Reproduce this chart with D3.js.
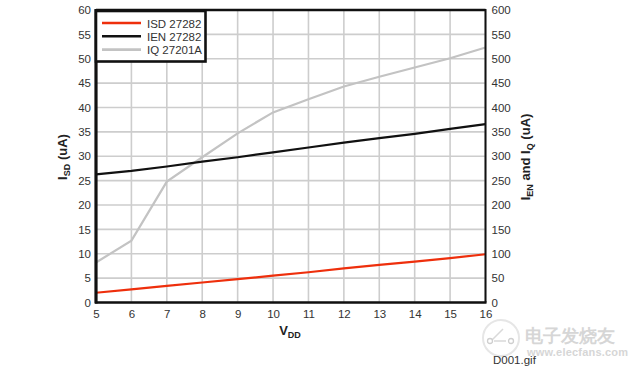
<!DOCTYPE html>
<html>
<head>
<meta charset="utf-8">
<script src="https://cdn.jsdelivr.net/npm/d3@7"></script>
<style>
body { margin: 0; background: #fff; }
text { font-family: "Liberation Sans", Arial, sans-serif; }
</style>
</head>
<body>
<div id="chart"></div>
<script>
const vdd = [5, 6, 7, 8, 9, 10, 11, 12, 13, 14, 15, 16];
const isd27282 = [2.0, 2.7, 3.4, 4.1, 4.8, 5.5, 6.2, 7.0, 7.7, 8.4, 9.1, 9.9];
const ien27282 = [263, 270, 279, 289, 298, 308, 318, 328, 337, 346, 356, 366];
const iq27201a = [82, 127, 248, 298, 347, 390, 417, 443, 463, 482, 501, 523];
const leftTicks = [0, 5, 10, 15, 20, 25, 30, 35, 40, 45, 50, 55, 60];
const rightTicks = [0, 50, 100, 150, 200, 250, 300, 350, 400, 450, 500, 550, 600];
const legendNames = ["ISD 27282", "IEN 27282", "IQ 27201A"];

const width = 631, height = 368;
const margin = {top: 10, left: 96, right: 146, bottom: 65};
const w = 485.5 - margin.left, h = 302.5 - margin.top;

const svg = d3.select("#chart").append("svg")
    .attr("width", width)
    .attr("height", height)
    .style("display", "block");
const g = svg.append("g").attr("transform", `translate(${margin.left},${margin.top})`);

const x = d3.scaleLinear().domain([5, 16]).range([0, w]);
const yLeft = d3.scaleLinear().domain([0, 60]).range([h, 0]);
const yRight = d3.scaleLinear().domain([0, 600]).range([h, 0]);

// grid
g.append("g").selectAll("line").data(vdd).enter().append("line")
    .attr("x1", d => x(d)).attr("x2", d => x(d))
    .attr("y1", 0).attr("y2", h)
    .attr("stroke", "#cdcdcd").attr("stroke-width", 1.6);
g.append("g").selectAll("line").data(leftTicks).enter().append("line")
    .attr("x1", 0).attr("x2", w)
    .attr("y1", d => yLeft(d)).attr("y2", d => yLeft(d))
    .attr("stroke", "#cdcdcd").attr("stroke-width", 1.6);

// axes, labels only
function styleAxis(sel) {
    sel.select(".domain").remove();
    sel.selectAll("line").remove();
    sel.selectAll("text")
        .attr("font-size", 11.5)
        .attr("fill", "#333");
}
g.append("g").attr("transform", `translate(0,${h})`)
    .call(d3.axisBottom(x).tickValues(vdd).tickFormat(d3.format("d")).tickSize(0).tickPadding(7))
    .call(styleAxis);
g.append("g")
    .call(d3.axisLeft(yLeft).tickValues(leftTicks).tickSize(0).tickPadding(5))
    .call(styleAxis);
g.append("g").attr("transform", `translate(${w},0)`)
    .call(d3.axisRight(yRight).tickValues(rightTicks).tickSize(0).tickPadding(6))
    .call(styleAxis);

// lines
const lineLeft = d3.line().x((d, i) => x(vdd[i])).y(d => yLeft(d));
const lineRight = d3.line().x((d, i) => x(vdd[i])).y(d => yRight(d));
g.append("path").datum(iq27201a).attr("d", lineRight)
    .attr("fill", "none").attr("stroke", "#c3c3c3").attr("stroke-width", 2.2);
g.append("path").datum(ien27282).attr("d", lineRight)
    .attr("fill", "none").attr("stroke", "#111").attr("stroke-width", 2.2);
g.append("path").datum(isd27282).attr("d", lineLeft)
    .attr("fill", "none").attr("stroke", "#ee2f0c").attr("stroke-width", 2.2);

// frame
g.append("line").attr("x1", 0).attr("x2", w).attr("y1", 0).attr("y2", 0)
    .attr("stroke", "#111").attr("stroke-width", 2.4);
g.append("line").attr("x1", w).attr("x2", w).attr("y1", -1).attr("y2", h)
    .attr("stroke", "#111").attr("stroke-width", 2);
g.append("line").attr("x1", -1).attr("x2", w + 1).attr("y1", h).attr("y2", h)
    .attr("stroke", "#111").attr("stroke-width", 2.4);
g.append("line").attr("x1", 0).attr("x2", 0).attr("y1", -1).attr("y2", h + 1)
    .attr("stroke", "#111").attr("stroke-width", 3.2);

// legend
const legend = svg.append("g").attr("transform", "translate(96,11)");
legend.append("rect")
    .attr("width", 109.5).attr("height", 50.5)
    .attr("fill", "#fff").attr("stroke", "#111").attr("stroke-width", 2.6);
const legendColors = ["#ee2f0c", "#111", "#c3c3c3"];
legendNames.forEach((name, i) => {
    legend.append("line")
        .attr("x1", 6).attr("x2", 45)
        .attr("y1", 12 + i * 13.3).attr("y2", 12 + i * 13.3)
        .attr("stroke", legendColors[i]).attr("stroke-width", 2.6);
    legend.append("text")
        .attr("x", 51).attr("y", 16.5 + i * 13.3)
        .attr("font-size", 11.5).attr("fill", "#333")
        .text(name);
});

// axis titles
function subTitle(parent, parts, size) {
    parts.forEach(p => {
        parent.append("tspan")
            .attr("font-size", p[1] ? 9 : size)
            .attr("dy", p[1] ? 2.5 : (p[2] ? -2.5 : 0))
            .text(p[0]);
    });
}
const yTitleL = svg.append("text")
    .attr("transform", "translate(67,157) rotate(-90)")
    .attr("text-anchor", "middle").attr("font-weight", "bold").attr("fill", "#222");
subTitle(yTitleL, [["I", 0], ["SD", 1], [" (uA)", 0, 1]], 13);
const yTitleR = svg.append("text")
    .attr("transform", "translate(530,157) rotate(-90)")
    .attr("text-anchor", "middle").attr("font-weight", "bold").attr("fill", "#222");
subTitle(yTitleR, [["I", 0], ["EN", 1], [" and I", 0, 1], ["Q", 1], [" (uA)", 0, 1]], 13);
const xTitle = svg.append("text")
    .attr("x", 290).attr("y", 335)
    .attr("text-anchor", "middle").attr("font-weight", "bold").attr("fill", "#222");
subTitle(xTitle, [["V", 0], ["DD", 1]], 13);

// watermark
const mark = svg.append("g");
mark.append("circle").attr("cx", 501).attr("cy", 338).attr("r", 18)
    .attr("fill", "#fff").attr("stroke", "#e6e6e6").attr("stroke-width", 2);
mark.append("path").attr("d", "M491,341 L503,329 M494,341 L506,341")
    .attr("fill", "none").attr("stroke", "#d9d9d9").attr("stroke-width", 1.5);
mark.append("circle").attr("cx", 490).attr("cy", 341).attr("r", 2.5)
    .attr("fill", "#fff").attr("stroke", "#cfcfcf").attr("stroke-width", 1.3);
mark.append("circle").attr("cx", 511).attr("cy", 341).attr("r", 2.5)
    .attr("fill", "#fff").attr("stroke", "#cfcfcf").attr("stroke-width", 1.3);
mark.append("text").attr("x", 525).attr("y", 342)
    .attr("font-family", "Noto Sans CJK SC").attr("font-size", 17.5)
    .attr("fill", "#d6d6d6").attr("font-weight", "bold").text("电子发烧友");
mark.append("text").attr("x", 527).attr("y", 356)
    .attr("font-size", 11).attr("letter-spacing", 0.2)
    .attr("fill", "#d6d6d6").attr("font-weight", "bold").text("www.elecfans.com");

svg.append("text").attr("x", 493).attr("y", 364)
    .attr("font-size", 11.5).attr("fill", "#333").text("D001.gif");
</script>
</body>
</html>
